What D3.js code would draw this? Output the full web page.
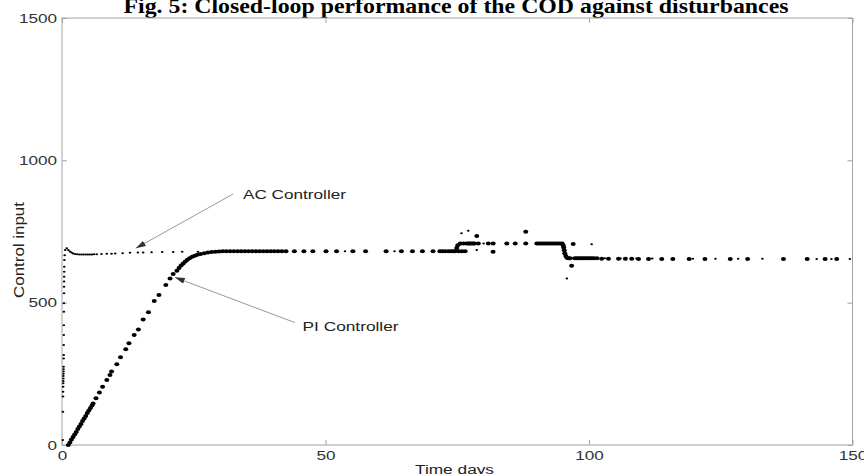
<!DOCTYPE html>
<html>
<head>
<meta charset="utf-8">
<script src="https://cdn.jsdelivr.net/npm/d3@7"></script>
<style>
  body { margin: 0; background: #fff; }
  svg { display: block; }
</style>
</head>
<body>
<script>
// valeurs (temps en jours, entrée de commande)
var titre = "Fig. 5: Closed-loop performance of the COD against disturbances";
var xLabel = "Time days";
var yLabel = "Control input";
var xTicks = [0, 50, 100, 150];
var yTicks = [0, 500, 1000, 1500];

var acTime = [
  0.15, 0.18, 0.20, 0.21, 0.22, 0.23, 0.24, 0.25, 0.26, 0.27, 0.28, 0.29, 0.30, 0.31, 0.32,
  0.33, 0.34, 0.35, 0.36, 0.37, 0.38, 0.39, 0.40, 0.41, 0.42, 0.43, 0.45, 0.50, 0.60, 0.90,
  1.2, 1.5, 1.8, 2.1, 2.5, 2.9, 3.3, 3.7, 4.1, 4.5, 4.9, 5.3, 5.7, 6.1, 6.6,
  7.5, 8.5, 9.4, 10.1, 11.5, 12.9, 14.4, 15.4, 17.0, 19.0, 21.1, 22.8, 25.8,
  30, 34, 38, 42, 45.9, 50.1, 53.7, 57.6, 61.5, 63.1, 66.5, 70.4, 72.7, 74.5,
  74.8, 75.0, 75.3, 75.8, 76.2, 77.1, 77.6, 78.7, 80.0, 82.0, 84.4, 86.0, 88.0, 90.0, 92.0,
  94.0, 95.0, 95.3, 95.8, 96.2, 97.0, 98.0, 99.0, 100.5, 101.0, 103.0, 106.0, 109.0, 112.0,
  116.0, 119.7, 124.0, 128.3, 132.9, 137.0, 143.2, 146.0, 149.5
];
var acValue = [
  18, 117, 170, 187, 205, 217, 225, 234, 242, 250, 258, 266, 275, 304, 316,
  351, 386, 421, 468, 498, 533, 556, 574, 591, 609, 626, 650, 667, 685, 691,
  685, 680, 676, 673, 671, 670, 669, 669, 669, 669, 669, 669, 669, 670, 670,
  671, 672, 672, 673, 674, 675, 676, 676, 677, 678, 678, 679, 679,
  680, 680, 681, 681, 681, 681, 681, 681, 681, 681, 681, 681, 681, 681,
  690, 700, 708, 744, 708, 753, 708, 685, 708, 708, 708, 708, 708, 708, 708,
  708, 700, 670, 585, 656, 656, 656, 656, 705, 656, 656, 655, 655, 655,
  655, 654, 654, 654, 654, 653, 653, 653, 653
];

var piTime = [
  1.2, 1.5, 1.8, 2.1, 2.4, 2.7, 3.0, 3.3, 3.6, 3.9, 4.2, 4.5, 4.8, 5.1, 5.4, 5.7, 5.9,
  6.45, 7.1, 7.7, 8.5, 9.1, 9.4, 10.4, 11.1, 12.1, 12.7, 13.7, 14.5, 15.4, 16.4, 17.5, 18.4,
  19.7, 20.5, 21.1, 21.8,
  22.2, 22.6, 23.0, 23.4, 23.8, 24.2, 24.7, 25.2, 25.7, 26.3, 27.0, 27.7, 28.4, 29.1,
  29.8, 30.5, 31.2, 31.9, 32.6, 33.3, 34.0, 34.7, 35.4, 36.1, 36.8, 37.5, 38.2, 38.9, 39.6,
  40.3, 41.0, 41.7, 42.5,
  44.1, 45.9, 47.6, 50.1, 52.1, 55.2, 57.6, 61.5, 64.4, 66.5, 68.4, 70.4, 71.7, 72.2, 72.7,
  73.3, 73.8, 74.2, 74.6,
  74.9, 75.1, 75.3, 75.6, 75.9, 76.2, 76.5, 76.8, 77.1, 77.4, 77.7, 78.0, 78.3, 78.7, 79.0,
  80.9, 81.8, 81.8, 84.4, 86.0, 88.0, 88.0,
  90.1, 90.5, 90.9, 91.3, 91.7, 92.1, 92.5, 92.9, 93.3, 93.7, 94.1, 94.5, 94.9,
  95.1, 95.2, 95.3, 95.4, 95.6, 95.8,
  96.1, 96.4, 96.7, 97.0, 97.3, 97.7, 98.1, 98.5, 98.9, 99.3, 99.7, 100.1, 100.5, 100.9, 101.5,
  102.4, 103.7, 105.6, 106.9, 108.1, 109.4, 111.3, 113.8, 115.9, 119.0, 122.0, 126.8, 130.1,
  136.9, 141.4, 144.8, 147.0
];
var piValue = [
  0, 9, 19, 28, 37, 46, 56, 65, 74, 84, 93, 102, 112, 121, 130, 139, 146,
  164, 184, 205, 228, 246, 258, 284, 308, 336, 357, 386, 406, 441, 466, 506, 527,
  562, 585, 601, 612,
  622, 631, 638, 645, 651, 656, 661, 665, 668, 671, 674, 676, 678, 679,
  680, 681, 681, 681, 681, 681, 681, 681, 681, 681, 681, 681, 681, 681, 681,
  681, 681, 681, 681,
  681, 681, 681, 681, 681, 681, 681, 681, 681, 681, 681, 681, 681, 681, 681,
  681, 681, 681, 681,
  692, 702, 681, 708, 681, 708, 681, 708, 708, 708, 708, 708, 708, 734, 708,
  708, 708, 679, 708, 708, 708, 749,
  708, 708, 708, 708, 708, 708, 708, 708, 708, 708, 708, 708, 708,
  702, 694, 684, 674, 664, 658,
  656, 656, 630, 706, 656, 656, 656, 656, 656, 656, 656, 656, 656, 656, 656,
  654, 654, 654, 654, 654, 653, 653, 653, 653, 653, 653, 653, 653,
  653, 653, 653, 653
];

var width = 864;
var height = 474;
var stretch = 1.37; // la figure d'origine est étirée horizontalement
var boxColor = "#a3a3a3";

var svg = d3.select("body").append("svg")
    .attr("width", width)
    .attr("height", height);

var x = d3.scaleLinear().domain([0, 150]).range([62, 852.5]);
var y = d3.scaleLinear().domain([0, 1500]).range([445, 18]);

// titre (coupé en haut comme sur l'image)
svg.append("text")
    .attr("x", 456)
    .attr("y", 13)
    .attr("text-anchor", "middle")
    .attr("textLength", 665)
    .attr("lengthAdjust", "spacingAndGlyphs")
    .style("font-family", "'Liberation Serif', 'Times New Roman', serif")
    .style("font-weight", "bold")
    .style("font-size", "21px")
    .text(titre);

// cadre
svg.append("rect")
    .attr("x", x(0))
    .attr("y", y(1500))
    .attr("width", x(150) - x(0))
    .attr("height", y(0) - y(1500))
    .attr("fill", "none")
    .attr("stroke", boxColor)
    .attr("stroke-width", 1);

function styleAxis(g) {
    g.select(".domain").remove();
    g.selectAll(".tick line").attr("stroke", boxColor);
    g.selectAll(".tick text")
        .style("font-family", "'Liberation Sans', Arial, sans-serif")
        .style("font-size", "12.5px")
        .attr("fill", "#333");
}

var fmt = d3.format("d");

var xAxis = svg.append("g")
    .attr("transform", "translate(0," + y(0) + ")")
    .call(d3.axisBottom(x).tickValues(xTicks).tickFormat(fmt).tickSizeInner(-5).tickSizeOuter(0));
styleAxis(xAxis);
xAxis.selectAll(".tick text")
    .attr("y", 14.5)
    .attr("dy", null)
    .attr("transform", "scale(" + stretch + ",1)");

svg.append("g")
    .attr("transform", "translate(0," + y(1500) + ")")
    .call(d3.axisTop(x).tickValues(xTicks).tickSizeInner(-5).tickSizeOuter(0).tickFormat(""))
    .call(styleAxis);

var yAxis = svg.append("g")
    .attr("transform", "translate(" + x(0) + ",0)")
    .call(d3.axisLeft(y).tickValues(yTicks).tickFormat(fmt).tickSizeInner(-5).tickSizeOuter(0));
styleAxis(yAxis);
yAxis.selectAll(".tick text")
    .attr("x", -5 / stretch)
    .attr("transform", "scale(" + stretch + ",1)");

svg.append("g")
    .attr("transform", "translate(" + x(150) + ",0)")
    .call(d3.axisRight(y).tickValues(yTicks).tickSizeInner(-5).tickSizeOuter(0).tickFormat(""))
    .call(styleAxis);

// titres des axes
svg.append("text")
    .attr("x", 454.5)
    .attr("y", 474)
    .attr("text-anchor", "middle")
    .attr("textLength", 79)
    .attr("lengthAdjust", "spacingAndGlyphs")
    .style("font-family", "'Liberation Sans', Arial, sans-serif")
    .style("font-size", "12.3px")
    .attr("fill", "#222")
    .text(xLabel);

svg.append("text")
    .attr("transform", "translate(24,250) rotate(-90)")
    .attr("text-anchor", "middle")
    .attr("textLength", 96)
    .attr("lengthAdjust", "spacingAndGlyphs")
    .style("font-family", "'Liberation Sans', Arial, sans-serif")
    .style("font-size", "15px")
    .attr("fill", "#222")
    .text(yLabel);

// points des deux régulateurs
var acData = acTime.map(function (t, i) { return [t, acValue[i]]; });
var piData = piTime.map(function (t, i) { return [t, piValue[i]]; });

svg.append("g").selectAll("ellipse")
    .data(piData)
    .enter()
    .append("ellipse")
    .attr("cx", function (d) { return x(d[0]); })
    .attr("cy", function (d) { return y(d[1]); })
    .attr("rx", 2.5)
    .attr("ry", 2.0)
    .attr("fill", "#000");

svg.append("g").selectAll("ellipse")
    .data(acData)
    .enter()
    .append("ellipse")
    .attr("cx", function (d) { return x(d[0]); })
    .attr("cy", function (d) { return y(d[1]); })
    .attr("rx", 1.3)
    .attr("ry", 1.0)
    .attr("fill", "#000");

// annotations avec flèches
svg.append("defs").append("marker")
    .attr("id", "fleche")
    .attr("viewBox", "0 0 10 6")
    .attr("refX", 10)
    .attr("refY", 3)
    .attr("markerUnits", "userSpaceOnUse")
    .attr("markerWidth", 10)
    .attr("markerHeight", 6)
    .attr("orient", "auto")
    .append("path")
    .attr("d", "M0,0 L10,3 L0,6 Z")
    .attr("fill", "#333");

var notes = [
    { label: "AC Controller", from: [32.5, 882], to: [14.0, 691], at: [34.35, 864], len: 103 },
    { label: "PI Controller", from: [44.2, 430], to: [21.4, 589], at: [45.65, 400], len: 96 }
];

notes.forEach(function (n) {
    svg.append("line")
        .attr("x1", x(n.from[0]))
        .attr("y1", y(n.from[1]))
        .attr("x2", x(n.to[0]))
        .attr("y2", y(n.to[1]))
        .attr("stroke", "#999")
        .attr("stroke-width", 1)
        .attr("marker-end", "url(#fleche)");

    svg.append("text")
        .attr("x", x(n.at[0]))
        .attr("y", y(n.at[1]))
        .attr("textLength", n.len)
        .attr("lengthAdjust", "spacingAndGlyphs")
        .style("font-family", "'Liberation Sans', Arial, sans-serif")
        .style("font-size", "12px")
        .attr("fill", "#222")
        .text(n.label);
});
</script>
</body>
</html>
